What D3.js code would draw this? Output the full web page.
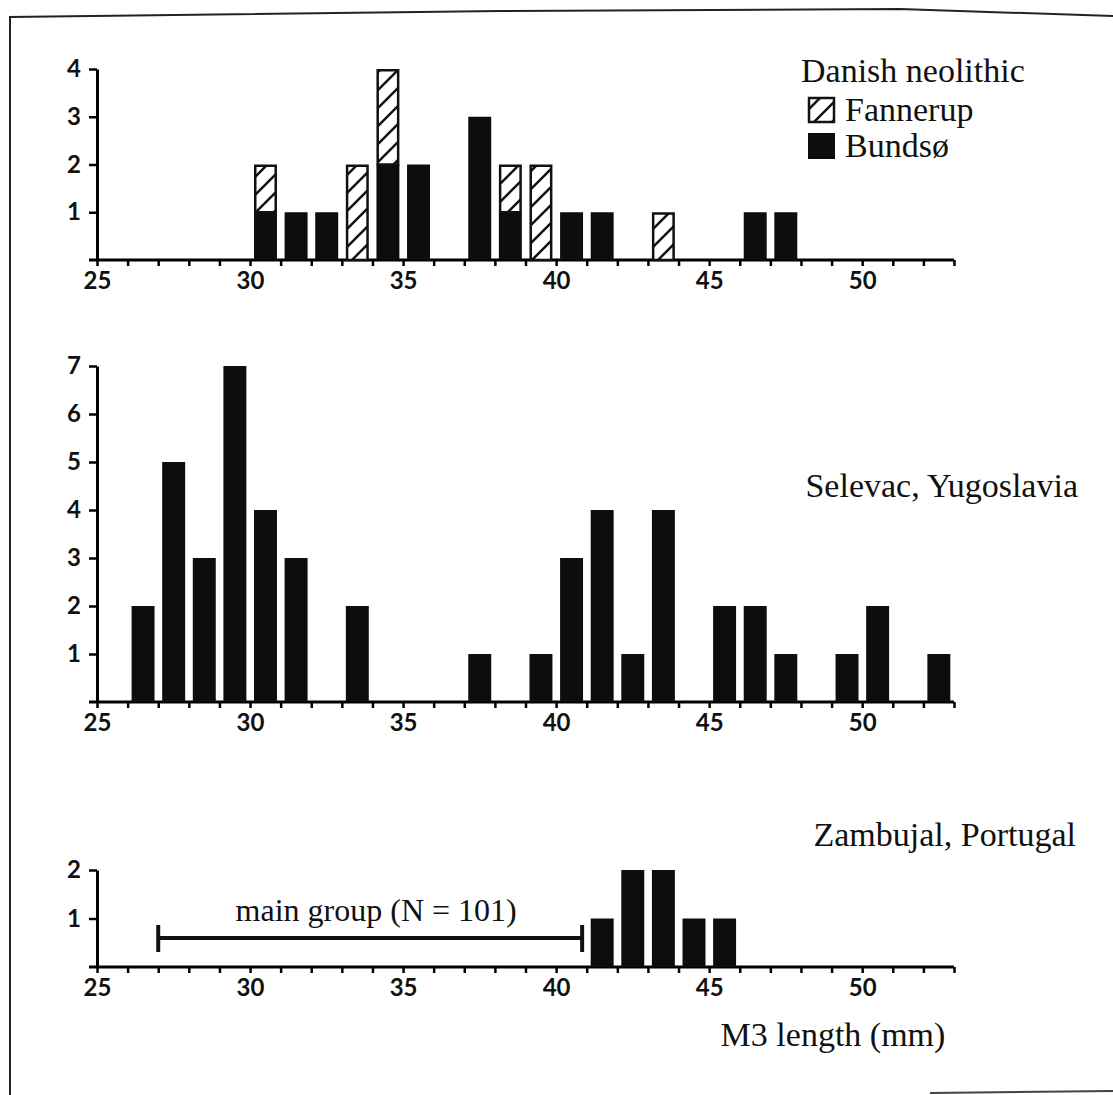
<!DOCTYPE html>
<html>
<head>
<meta charset="utf-8">
<script src="https://cdn.jsdelivr.net/npm/d3@7"></script>
<style>
  body { margin: 0; background: #fff; }
  .tick text { font-family: "Lato", sans-serif; font-weight: bold; font-size: 24px; fill: #111; }
  .lbl { font-family: "Liberation Serif", serif; font-size: 34px; fill: #111; }
</style>
</head>
<body>
<svg id="chart" width="1113" height="1095"></svg>
<script>
// Danish neolithic (stacked: Bundsø at bottom, Fannerup on top)
var danishBins = [30, 31, 32, 33, 34, 35, 37, 38, 39, 40, 41, 43, 46, 47];
var bundsoCounts = [1, 1, 1, 0, 2, 2, 3, 1, 0, 1, 1, 0, 1, 1];
var fannerupCounts = [1, 0, 0, 2, 2, 0, 0, 1, 2, 0, 0, 1, 0, 0];

// Selevac, Yugoslavia
var selevacBins = [26, 27, 28, 29, 30, 31, 33, 37, 39, 40, 41, 42, 43, 45, 46, 47, 49, 50, 52];
var selevacCounts = [2, 5, 3, 7, 4, 3, 2, 1, 1, 3, 4, 1, 4, 2, 2, 1, 1, 2, 1];

// Zambujal, Portugal
var zambujalBins = [41, 42, 43, 44, 45];
var zambujalCounts = [1, 2, 2, 1, 1];
var mainGroupRange = [27, 40.85];   // main group (N = 101)

var xTickLabels = [25, 30, 35, 40, 45, 50];

var svg = d3.select("#chart");

// hatch pattern for Fannerup
var defs = svg.append("defs");
var pat = defs.append("pattern")
    .attr("id", "hatch")
    .attr("patternUnits", "userSpaceOnUse")
    .attr("width", 18).attr("height", 18);
pat.append("rect").attr("width", 18).attr("height", 18).attr("fill", "#fff");
pat.append("path")
    .attr("d", "M-3,21 L21,-3 M-3,3 L3,-3 M15,21 L21,15")
    .attr("stroke", "#111").attr("stroke-width", 2.5);

// page frame
svg.append("path")
    .attr("d", "M10,1095 L10,17 L500,11 L900,9 L1113,16")
    .attr("fill", "none").attr("stroke", "#222").attr("stroke-width", 2);
svg.append("path")
    .attr("d", "M930,1093 L1113,1091")
    .attr("fill", "none").attr("stroke", "#444").attr("stroke-width", 2);

// shared x scale
var x = d3.scaleLinear().domain([25, 53]).range([97, 954]);
var barLo = 0.13, barHi = 0.88;

function drawPanel(y0, y1, maxY) {
    var y = d3.scaleLinear().domain([0, maxY]).range([y0, y1]);

    var xAxis = d3.axisBottom(x)
        .tickValues(d3.range(25, 54))
        .tickSize(6).tickSizeOuter(0).tickPadding(6)
        .tickFormat(function (d) { return xTickLabels.indexOf(d) >= 0 ? d : ""; });
    var gx = svg.append("g")
        .attr("transform", "translate(0," + y0 + ")")
        .call(xAxis);
    gx.select(".domain").attr("stroke-width", 3).attr("d", "M" + (x(25) - 8) + ",0H" + x(53));
    gx.selectAll(".tick line").attr("stroke-width", 2.5);

    var yAxis = d3.axisLeft(y)
        .tickValues(d3.range(1, maxY + 1))
        .tickSize(8).tickSizeOuter(0).tickPadding(8)
        .tickFormat(d3.format("d"));
    var gy = svg.append("g")
        .attr("transform", "translate(" + x(25) + ",0)")
        .call(yAxis);
    gy.select(".domain").attr("stroke-width", 3);
    gy.selectAll(".tick line").attr("stroke-width", 2.5);
    return y;
}

function drawBars(y, bins, counts, base) {
    svg.append("g").selectAll("rect")
        .data(bins.map(function (b, i) { return { bin: b, n: counts[i], base: base ? base[i] : 0 }; })
            .filter(function (d) { return d.n > 0; }))
        .enter().append("rect")
        .attr("x", function (d) { return x(d.bin + barLo); })
        .attr("width", function (d) { return x(d.bin + barHi) - x(d.bin + barLo); })
        .attr("y", function (d) { return y(d.base + d.n); })
        .attr("height", function (d) { return y(d.base) - y(d.base + d.n); })
        .attr("fill", "#0d0d0d");
}

// ---------- Top panel: Danish neolithic ----------
var yTop = drawPanel(260, 69, 4);
drawBars(yTop, danishBins, bundsoCounts);
svg.append("g").selectAll("rect")
    .data(danishBins.map(function (b, i) { return { bin: b, n: fannerupCounts[i], base: bundsoCounts[i] }; })
        .filter(function (d) { return d.n > 0; }))
    .enter().append("rect")
    .attr("x", function (d) { return x(d.bin + barLo) + 1.25; })
    .attr("width", function (d) { return x(d.bin + barHi) - x(d.bin + barLo) - 2.5; })
    .attr("y", function (d) { return yTop(d.base + d.n) + 1.25; })
    .attr("height", function (d) { return yTop(d.base) - yTop(d.base + d.n) - 1.25; })
    .attr("fill", "url(#hatch)")
    .attr("stroke", "#111").attr("stroke-width", 2.5);

svg.append("text").attr("class", "lbl").attr("x", 801).attr("y", 82).text("Danish neolithic");
svg.append("rect").attr("x", 809).attr("y", 98).attr("width", 25).attr("height", 24)
    .attr("fill", "url(#hatch)").attr("stroke", "#111").attr("stroke-width", 2.5);
svg.append("text").attr("class", "lbl").attr("x", 845).attr("y", 121).text("Fannerup");
svg.append("rect").attr("x", 808).attr("y", 133).attr("width", 27).attr("height", 26).attr("fill", "#0d0d0d");
svg.append("text").attr("class", "lbl").attr("x", 845).attr("y", 157).text("Bundsø");

// ---------- Middle panel: Selevac ----------
var yMid = drawPanel(702, 366, 7);
drawBars(yMid, selevacBins, selevacCounts);
svg.append("text").attr("class", "lbl").attr("x", 1078).attr("y", 497)
    .attr("text-anchor", "end").text("Selevac, Yugoslavia");

// ---------- Bottom panel: Zambujal ----------
var yBot = drawPanel(967, 870, 2);
drawBars(yBot, zambujalBins, zambujalCounts);

var mg = svg.append("g").attr("stroke", "#111").attr("stroke-width", 4);
mg.append("line").attr("x1", x(mainGroupRange[0])).attr("x2", x(mainGroupRange[1]))
    .attr("y1", 938).attr("y2", 938);
mg.append("line").attr("x1", x(mainGroupRange[0])).attr("x2", x(mainGroupRange[0]))
    .attr("y1", 925).attr("y2", 952);
mg.append("line").attr("x1", x(mainGroupRange[1])).attr("x2", x(mainGroupRange[1]))
    .attr("y1", 925).attr("y2", 952);
svg.append("text").attr("class", "lbl").style("font-size", "32px")
    .attr("x", x((mainGroupRange[0] + mainGroupRange[1]) / 2) + 6).attr("y", 921)
    .attr("text-anchor", "middle").text("main group (N = 101)");

svg.append("text").attr("class", "lbl").attr("x", 1076).attr("y", 846)
    .attr("text-anchor", "end").text("Zambujal, Portugal");

svg.append("text").attr("class", "lbl").attr("x", 833).attr("y", 1046)
    .attr("text-anchor", "middle").text("M3 length (mm)");
</script>
</body>
</html>
